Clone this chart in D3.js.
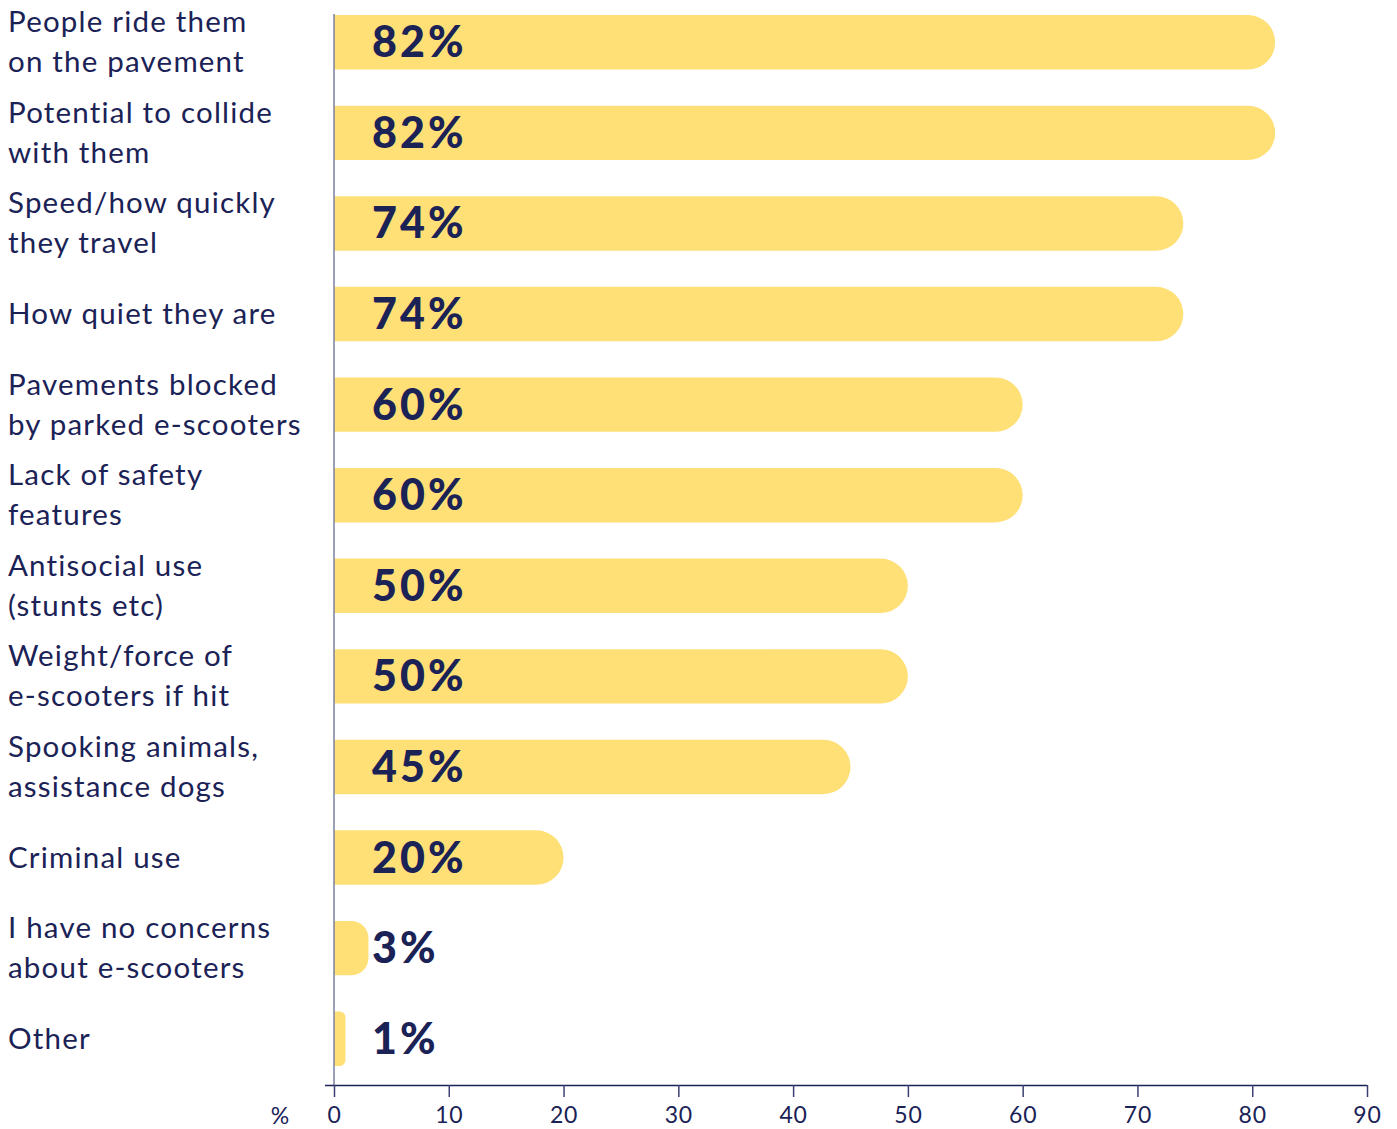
<!DOCTYPE html>
<html><head><meta charset="utf-8">
<script src="https://cdn.jsdelivr.net/npm/d3@7"></script>
<style>body{margin:0;background:#fff}svg{display:block}</style>
</head><body>
<svg id="c" width="1397" height="1129"></svg>
<script>
const categories = [
  ["People ride them","on the pavement"],
  ["Potential to collide","with them"],
  ["Speed/how quickly","they travel"],
  ["How quiet they are"],
  ["Pavements blocked","by parked e-scooters"],
  ["Lack of safety","features"],
  ["Antisocial use","(stunts etc)"],
  ["Weight/force of","e-scooters if hit"],
  ["Spooking animals,","assistance dogs"],
  ["Criminal use"],
  ["I have no concerns","about e-scooters"],
  ["Other"]
];
const values = [82,82,74,74,60,60,50,50,45,20,3,1];
const tickValues = [0,10,20,30,40,50,60,70,80,90];
const axisUnit = "%";

const navy = "#1b2256", barColor = "#fee077";
const svg = d3.select("#c");
const x = d3.scaleLinear().domain([0,90]).range([334,1367]);
const y = d3.scaleBand().domain(d3.range(categories.length)).range([-3,1084]).paddingInner(0.4).paddingOuter(0.2);
const bh = y.bandwidth();

function barPath(x0, x1, yt, h){
  const w = x1-x0;
  const r = Math.min(h/2, w/2);
  return `M${x0},${yt}H${x1-r}A${r},${r} 0 0 1 ${x1},${yt+r}V${yt+h-r}A${r},${r} 0 0 1 ${x1-r},${yt+h}H${x0}Z`;
}

svg.append("g").selectAll("path").data(values).join("path")
  .attr("d",(d,i)=>barPath(x(0), x(d), y(i), bh))
  .attr("fill", barColor);

// vertical axis line
svg.append("line").attr("x1",x(0)).attr("x2",x(0)).attr("y1",14).attr("y2",1085)
  .attr("stroke","#7a819f").attr("stroke-width",1.5);

// value labels
svg.append("g").selectAll("text").data(values).join("text")
  .attr("x", x(0)+38).attr("y",(d,i)=>y(i)+bh/2+15)
  .attr("font-family","Lato, sans-serif").attr("font-weight",900).attr("font-size",43)
  .attr("letter-spacing",3)
  .attr("fill",navy).text(d=>d+"%");

// category labels
const lab = svg.append("g").selectAll("text").data(categories).join("text")
  .attr("font-family","Lato, sans-serif").attr("font-size",29.5).attr("letter-spacing",1.2).attr("fill",navy);
lab.each(function(lines,i){
  const t = d3.select(this);
  const c = y(i)+bh/2;
  const lh = 40;
  const start = c - (lines.length-1)*lh/2 + 10;
  lines.forEach((l,j)=>t.append("tspan").attr("x",8).attr("y",start+j*lh).text(l));
});

// x axis
const ax = svg.append("g").attr("transform","translate(0,1085)")
  .call(d3.axisBottom(x).tickValues(tickValues).tickSize(12).tickSizeOuter(0).tickPadding(10));
ax.select(".domain").attr("d",`M325,0.5H${x(90)}`).attr("stroke",navy).attr("stroke-width",1.5);
ax.selectAll(".tick line").attr("stroke","#3a4170").attr("stroke-width",1.5);
ax.selectAll(".tick text").attr("font-family","Lato, sans-serif").attr("font-size",23).attr("letter-spacing",0.8).attr("fill",navy);
svg.append("text").attr("x",280).attr("y",1124).attr("text-anchor","middle")
  .attr("font-family","Lato, sans-serif").attr("font-size",23).attr("fill",navy).text(axisUnit);
</script>
</body></html>
